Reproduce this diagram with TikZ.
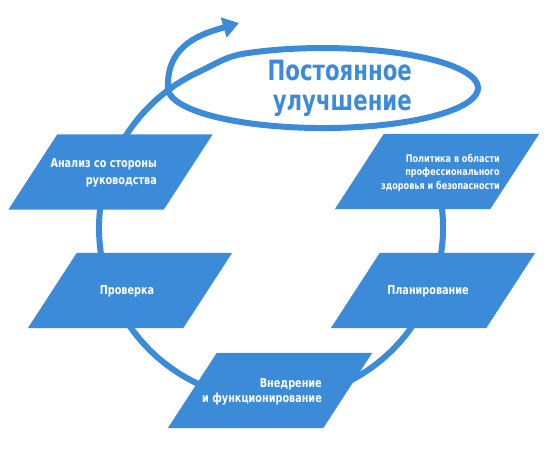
\documentclass[tikz,border=0pt]{standalone}
\usepackage{fontspec}
\setmainfont{Liberation Sans}
\newfontfamily\stagefont{DejaVu Sans}[FakeStretch=0.78]
\newfontfamily\titlefont{DejaVu Sans}[FakeStretch=0.76]
\usetikzlibrary{arrows.meta,positioning}
\definecolor{cycleblue}{RGB}{59,139,217}

\begin{document}
\begin{tikzpicture}[x=1pt,y=1pt,
every node/.style={inner sep=0pt},
cycleline/.style={draw=cycleblue,line width=6pt},
stage/.style={minimum width=204pt,minimum height=75pt},
stagetext/.style={text=white,align=right,font=\stagefont\bfseries\fontsize{12.4}{#1}\selectfont},
stagetext/.default=15]
\useasboundingbox (0,0) rectangle (548,458);
% spiral: circle, then the loop round the title, then the arrow
\draw[cycleline,-{Triangle[length=16pt,width=20pt]}] (271,230) ++(30:172)
  arc[start angle=30,end angle=-245,radius=172]
  to[out=25,in=188.5] (245.5,404.6)
  arc[start angle=120,end angle=-180,x radius=155,y radius=40]
  .. controls (166,415) and (205,425) .. (239,435);
\node[text=cycleblue,align=right,anchor=east,
font=\titlefont\bfseries\fontsize{28}{30}\selectfont] (title) at (412,370) {Постоянное\\улучшение};
% stages
\node[stage] (analiz) at (110.5,286) {};
\node[stage] (politika) at (437,286.5) {};
\node[stage] (proverka) at (130,167.5) {};
\node[stage] (planirovanie) at (433,167.5) {};
\node[stage] (vnedrenie) at (270,67.5) {};
\foreach \n in {analiz,politika,proverka,planirovanie,vnedrenie}
  \fill[cycleblue] (\n.south west) -- ([xshift=-49pt]\n.south east)
    -- (\n.north east) -- ([xshift=49pt]\n.north west) -- cycle;
\node[stagetext=16.5,anchor=east] (tAnaliz) at (157,285) {Анализ со стороны\\руководства};
\node[stagetext,anchor=east,font=\stagefont\bfseries\fontsize{10.4}{13.5}\selectfont]
  (tPolitika) at (500,285.5) {Политика в области\\профессионального\\здоровья и безопасности};
\node[stagetext] (tProverka) at (127,167) {Проверка};
\node[stagetext] (tPlanirovanie) at (428,167) {Планирование};
\node[stagetext=15,anchor=east] (tVnedrenie) at (322,66.5) {Внедрение\\и функционирование};
\end{tikzpicture}
\end{document}
